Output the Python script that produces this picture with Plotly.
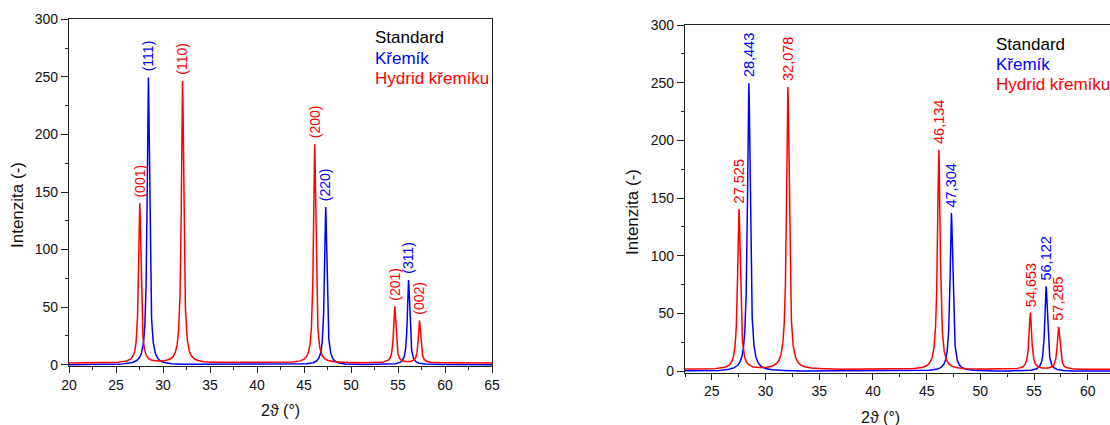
import numpy as np
import plotly.graph_objects as go

# ---- data ----
si_pos = [28.443, 47.304, 56.122]          # Křemík (Si) peak positions, 2θ
si_int = [249.5, 137.0, 73.5]              # peak intensities
si_hkl = ["(111)", "(220)", "(311)"]

sih_pos = [27.525, 32.078, 46.134, 54.653, 57.285]   # Hydrid křemíku peak positions
sih_int = [138.7, 244.7, 190.1, 49.1, 36.7]           # peak intensities (above baseline)
sih_hkl = ["(001)", "(110)", "(200)", "(201)", "(002)"]

sih_baseline = 1.5
peak_fwhm = 0.3

legend_items = ["Standard", "Křemík", "Hydrid křemíku"]
x_ticks = [20, 25, 30, 35, 40, 45, 50, 55, 60, 65]
y_ticks = [0, 50, 100, 150, 200, 250, 300]
x_title = "2ϑ (°)"
y_title = "Intenzita (-)"

BLUE = "#0000ff"
RED = "#ff0000"
FONT = "Liberation Sans, Arial, sans-serif"


def profile(x, pos, heights, fwhm, base=0.0):
    y = np.full_like(x, base)
    g = fwhm / 2.0
    for p, h in zip(pos, heights):
        y += h * g**2 / ((x - p) ** 2 + g**2)
    return y


x = np.arange(20.0, 65.0001, 0.005)
y_si = profile(x, si_pos, si_int, peak_fwhm)
y_sih = profile(x, sih_pos, sih_int, peak_fwhm, sih_baseline)

fig = go.Figure()
for xa, ya in (("x", "y"), ("x2", "y2")):
    fig.add_trace(go.Scatter(x=x, y=y_si, mode="lines", line=dict(color=BLUE, width=1.5),
                             xaxis=xa, yaxis=ya, showlegend=False, hoverinfo="skip"))
    fig.add_trace(go.Scatter(x=x, y=y_sih, mode="lines", line=dict(color=RED, width=1.5),
                             xaxis=xa, yaxis=ya, showlegend=False, hoverinfo="skip"))

W, H = 1110, 425
def px(v):
    return v / W
def py(v):
    return 1 - v / H

ax_common = dict(showline=True, linecolor="#222", linewidth=1.3, ticks="outside",
                 tickcolor="#222", tickwidth=1.2, showgrid=False, zeroline=False,
                 automargin=False,
                 tickfont=dict(family=FONT, size=14, color="#111"))

fig.update_layout(
    width=W, height=H, margin=dict(l=0, r=0, t=0, b=0, autoexpand=False),
    paper_bgcolor="white", plot_bgcolor="white",
    xaxis=dict(ax_common, domain=[px(69), px(492)], anchor="y", range=[20, 65],
               tickvals=x_ticks, ticklen=6, mirror=True,
               minor=dict(dtick=2.5, tick0=20, ticklen=3, ticks="outside", tickcolor="#222")),
    yaxis=dict(ax_common, domain=[py(366), py(19.3)], anchor="x", range=[-1.1, 300],
               tickvals=y_ticks, ticklen=7, mirror=True,
               minor=dict(dtick=25, tick0=0, ticklen=3, ticks="outside", tickcolor="#222")),
    xaxis2=dict(ax_common, domain=[px(685), 1.0], anchor="y2", range=[22.5, 62.07],
                tickvals=x_ticks, ticklen=6, mirror=True,
                minor=dict(dtick=2.5, tick0=20, ticklen=3, ticks="outside", tickcolor="#222")),
    yaxis2=dict(ax_common, domain=[py(372.5), py(25)], anchor="x2", range=[-1.1, 300],
                tickvals=y_ticks, ticklen=7, mirror=False,
                minor=dict(dtick=25, tick0=0, ticklen=3, ticks="outside", tickcolor="#222")),
)

ann = []
# peak labels: left panel hkl, right panel positions
for pos, hts, labels, col, base in ((si_pos, si_int, si_hkl, BLUE, 0.0),
                                     (sih_pos, sih_int, sih_hkl, RED, sih_baseline)):
    for p, h, lab in zip(pos, hts, labels):
        ann.append(dict(x=p, y=h + base, xref="x", yref="y", text=lab, textangle=-90,
                        showarrow=False, yanchor="bottom", xanchor="center", yshift=4,
                        font=dict(family=FONT, size=14, color=col)))
        ann.append(dict(x=p, y=h + base, xref="x2", yref="y2",
                        text=f"{p:.3f}".replace(".", ","), textangle=-90,
                        showarrow=False, yanchor="bottom", xanchor="center", yshift=4,
                        font=dict(family=FONT, size=14.5, color=col)))

# legend-like text blocks
leg_cols = ["#000000", BLUE, RED]
for x0, y0 in ((373, 38), (994, 44.5)):
    for i, (t, c) in enumerate(zip(legend_items, leg_cols)):
        ann.append(dict(x=px(x0), y=py(y0 + 20 * i), xref="paper", yref="paper", text=t,
                        showarrow=False, xanchor="left", yanchor="middle",
                        font=dict(family=FONT, size=17, color=c)))

# axis titles
for xc, yc in ((280.5, 410.5), (880, 417)):
    ann.append(dict(x=px(xc), y=py(yc), xref="paper", yref="paper", text=x_title,
                    showarrow=False, xanchor="center", yanchor="middle",
                    font=dict(family=FONT, size=16, color="#111")))
for xc, yc in ((17, 205), (633, 212)):
    ann.append(dict(x=px(xc), y=py(yc), xref="paper", yref="paper", text=y_title,
                    textangle=-90, showarrow=False, xanchor="center", yanchor="middle",
                    font=dict(family=FONT, size=17, color="#111")))

fig.update_layout(annotations=ann)
fig.write_html("out.html")
